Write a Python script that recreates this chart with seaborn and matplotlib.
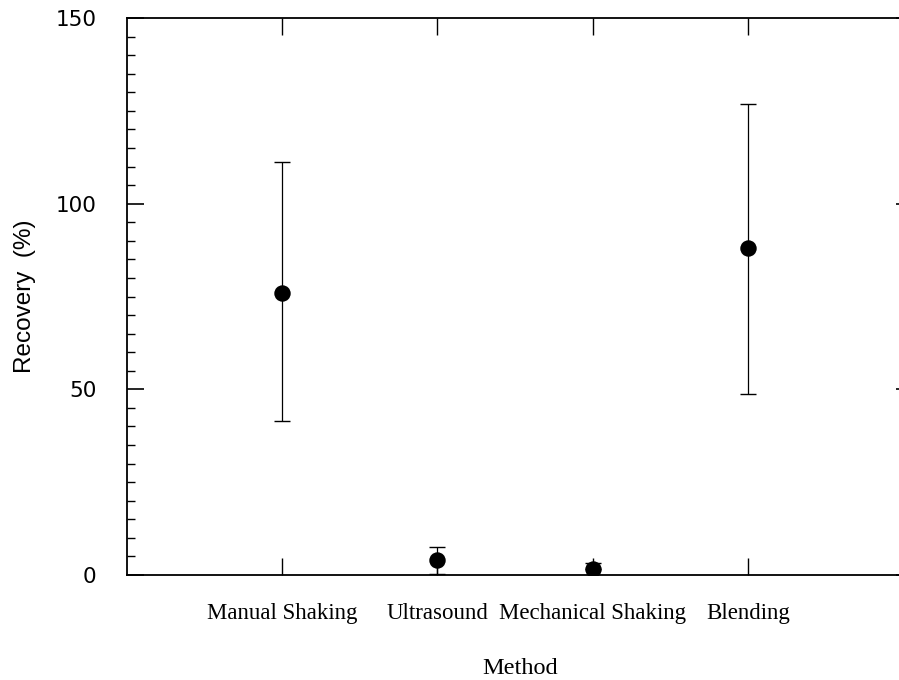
import numpy as np
import pandas as pd
import matplotlib
matplotlib.use("Agg")
import matplotlib.pyplot as plt
from matplotlib.ticker import MultipleLocator, FixedLocator
import seaborn as sns

methods = ["Manual Shaking", "Ultrasound", "Mechanical Shaking", "Blending"]
recovery = [76.0, 4.0, 1.6, 88.0]
err_low = [34.5, 3.6, 0.0, 39.2]
err_high = [35.2, 3.6, 1.6, 38.8]

df = pd.DataFrame({"Method": methods, "Recovery": recovery})

sns.set_style("ticks")
plt.rcParams["font.family"] = ["Liberation Sans", "DejaVu Sans"]
plt.rcParams["text.color"] = "black"
plt.rcParams["axes.labelcolor"] = "black"
plt.rcParams["xtick.color"] = "black"
plt.rcParams["ytick.color"] = "black"

fig = plt.figure(figsize=(8.99, 6.8), dpi=100)
W, H = 899, 680
ax = fig.add_axes([127 / W, 1 - 575 / H, 776 / W, 557 / H])

ax.errorbar(methods, recovery, yerr=[err_low, err_high], fmt="none",
            ecolor="black", elinewidth=0.9, capsize=6, capthick=1.0, zorder=2)
sns.scatterplot(data=df, x="Method", y="Recovery", ax=ax, color="black",
                s=140, edgecolor="black", linewidth=0, zorder=3, legend=False)

ax.set_xlim(-1.0, 4.0)
ax.set_ylim(0, 150)

ax.yaxis.set_major_locator(FixedLocator([0, 50, 100, 150]))
ax.yaxis.set_minor_locator(MultipleLocator(5))

for s in ["top", "bottom", "left", "right"]:
    ax.spines[s].set_visible(True)
    ax.spines[s].set_color("black")
    ax.spines[s].set_linewidth(1.3)

ax.tick_params(axis="y", which="major", direction="in", length=12, width=1.2,
               left=True, right=True, labelsize=15.5, pad=22, colors="black")
ax.tick_params(axis="y", which="minor", direction="in", length=6, width=1.0,
               left=True, right=False, colors="black")
ax.tick_params(axis="x", which="major", direction="in", length=12, width=1.0,
               top=True, bottom=True, pad=20, colors="black")
ax.tick_params(axis="x", which="minor", bottom=False, top=False)

fig.canvas.draw()
for t in ax.yaxis.get_major_ticks():
    t.tick2line.set_markersize(5)
for lbl in ax.get_yticklabels():
    lbl.set_fontfamily(["DejaVu Sans"])
for lbl in ax.get_xticklabels():
    lbl.set_fontfamily(["Liberation Serif", "DejaVu Serif"])
    lbl.set_fontsize(16.5)

ax.set_xlabel("Method", fontsize=17.5, family=["Liberation Serif", "DejaVu Serif"],
              color="black")
ax.xaxis.set_label_coords((520 - 127) / 776, -(668 - 575) / 557)
ax.xaxis.label.set_va("center")
ax.set_ylabel("Recovery  (%)", fontsize=17.5, color="black")
ax.yaxis.set_label_coords(-(127 - 25) / 776, 0.5)
ax.yaxis.label.set_va("center")

ax.grid(False)
fig.savefig("out.png", dpi=100)
